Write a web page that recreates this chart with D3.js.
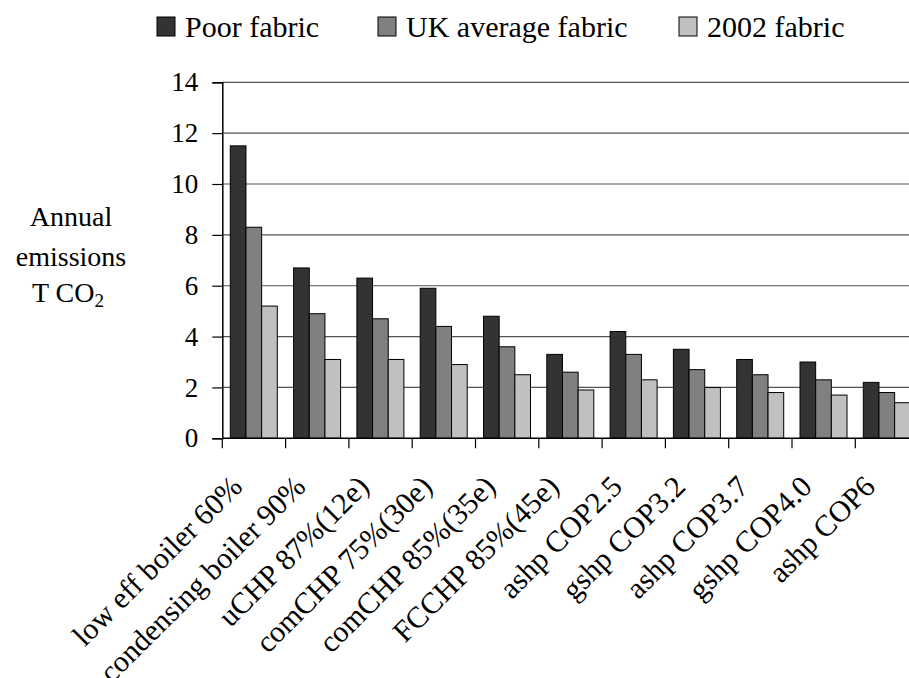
<!DOCTYPE html>
<html>
<head>
<meta charset="utf-8">
<script src="https://cdn.jsdelivr.net/npm/d3@7"></script>
<style>
  body { margin: 0; background: #fff; }
  svg { display: block; }
  svg text { font-family: "Liberation Serif", "Times New Roman", serif; fill: #000; }
</style>
</head>
<body>
<div id="chart"></div>
<script>
// categories and series
var categories = ["low eff boiler 60%", "condensing boiler 90%", "uCHP 87%(12e)", "comCHP 75%(30e)",
  "comCHP 85%(35e)", "FCCHP 85%(45e)", "ashp COP2.5", "gshp COP3.2", "ashp COP3.7", "gshp COP4.0", "ashp COP6"];
var seriesNames = ["Poor fabric", "UK average fabric", "2002 fabric"];
var poorFabric = [11.5, 6.7, 6.3, 5.9, 4.8, 3.3, 4.2, 3.5, 3.1, 3.0, 2.2];
var ukAverageFabric = [8.3, 4.9, 4.7, 4.4, 3.6, 2.6, 3.3, 2.7, 2.5, 2.3, 1.8];
var fabric2002 = [5.2, 3.1, 3.1, 2.9, 2.5, 1.9, 2.3, 2.0, 1.8, 1.7, 1.4];
var yTicks = [0, 2, 4, 6, 8, 10, 12, 14];
var colors = ["#333333", "#808080", "#c0c0c0"];

var seriesValues = [poorFabric, ukAverageFabric, fabric2002];
var data = categories.map(function(c, i) {
  return { name: c, values: seriesNames.map(function(s, j) { return { key: s, value: seriesValues[j][i] }; }) };
});

var W = 909, H = 678;
var plotLeft = 222.3, plotBottom = 438.3, plotTop = 82.3;
var step = 63.3;

var svg = d3.select("#chart").append("svg")
  .attr("width", W).attr("height", H);

var x0 = d3.scaleBand()
  .domain(categories)
  .range([plotLeft, plotLeft + step * categories.length])
  .padding(0);
var x1 = d3.scaleBand()
  .domain(seriesNames)
  .range([8, 55]);
var y = d3.scaleLinear()
  .domain([0, 14])
  .range([plotBottom, plotTop]);
var color = d3.scaleOrdinal().domain(seriesNames).range(colors);

// gridlines
svg.append("g")
  .selectAll("line")
  .data(yTicks.slice(1))
  .enter().append("line")
    .attr("x1", plotLeft).attr("x2", W)
    .attr("y1", function(d) { return y(d); })
    .attr("y2", function(d) { return y(d); })
    .attr("stroke", "#555")
    .attr("stroke-width", 1.2);

// bars
var groups = svg.append("g").selectAll("g")
  .data(data)
  .enter().append("g")
    .attr("transform", function(d) { return "translate(" + x0(d.name) + ",0)"; });
groups.selectAll("rect")
  .data(function(d) { return d.values; })
  .enter().append("rect")
    .attr("x", function(d) { return x1(d.key); })
    .attr("y", function(d) { return y(d.value); })
    .attr("width", x1.bandwidth())
    .attr("height", function(d) { return plotBottom - y(d.value); })
    .attr("fill", function(d) { return color(d.key); })
    .attr("stroke", "#000")
    .attr("stroke-width", 1);

// y axis
var yAxis = svg.append("g")
  .attr("transform", "translate(" + plotLeft + ",0)")
  .call(d3.axisLeft(y).tickValues(yTicks).tickSize(10).tickPadding(14));
yAxis.select(".domain").attr("stroke", "#000").attr("stroke-width", 1.5);
yAxis.selectAll(".tick line").attr("stroke", "#000").attr("stroke-width", 1.2);
yAxis.selectAll("text")
  .attr("font-family", null)
  .attr("font-size", 27)
  .attr("fill", "#000");

// x axis line and ticks at band boundaries
svg.append("line")
  .attr("x1", plotLeft).attr("x2", W)
  .attr("y1", plotBottom).attr("y2", plotBottom)
  .attr("stroke", "#000").attr("stroke-width", 1.5);
svg.append("g").selectAll("line")
  .data(categories)
  .enter().append("line")
    .attr("x1", function(d) { return x0(d); })
    .attr("x2", function(d) { return x0(d); })
    .attr("y1", plotBottom).attr("y2", plotBottom + 10)
    .attr("stroke", "#000").attr("stroke-width", 1.2);

// category labels, rotated
svg.append("g").selectAll("text")
  .data(categories)
  .enter().append("text")
    .attr("transform", function(d) {
      return "translate(" + (x0(d) + x0.bandwidth() / 2 - 10) + "," + (plotBottom + 50) + ") rotate(-45)";
    })
    .attr("text-anchor", "end")
    .attr("font-size", 30)
    .text(function(d) { return d; });

// y axis title
var title = svg.append("text")
  .attr("text-anchor", "middle")
  .attr("font-size", 28);
title.append("tspan").attr("x", 71).attr("y", 226).text("Annual");
title.append("tspan").attr("x", 71).attr("y", 266).text("emissions");
title.append("tspan").attr("x", 68).attr("y", 302).text("T CO");
title.append("tspan").attr("font-size", 19).attr("dy", 5).text("2");

// legend
var legendX = [157, 378, 679];
var legend = svg.append("g").selectAll("g")
  .data(seriesNames)
  .enter().append("g")
    .attr("transform", function(d, i) { return "translate(" + legendX[i] + ",0)"; });
legend.append("rect")
  .attr("x", 0).attr("y", 17)
  .attr("width", 18).attr("height", 19)
  .attr("fill", function(d) { return color(d); })
  .attr("stroke", "#000").attr("stroke-width", 1);
legend.append("text")
  .attr("x", 28).attr("y", 36.5)
  .attr("font-size", 30)
  .text(function(d) { return d; });
</script>
</body>
</html>
